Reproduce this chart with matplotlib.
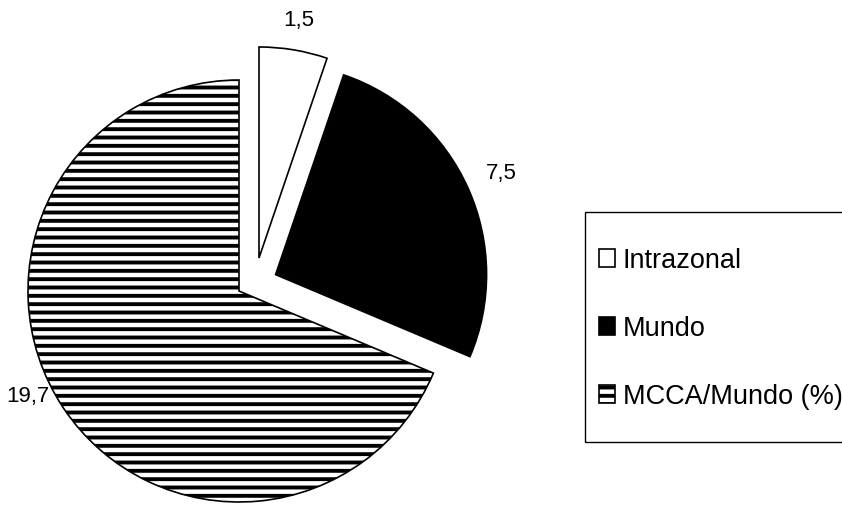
import matplotlib
matplotlib.use("Agg")
import matplotlib.pyplot as plt
import numpy as np
from matplotlib.patches import Rectangle

plt.rcParams["font.family"] = ["Liberation Sans", "DejaVu Sans"]
plt.rcParams["hatch.linewidth"] = 2.8
plt.rcParams["hatch.color"] = "black"

categories = ["Intrazonal", "Mundo", "MCCA/Mundo (%)"]
values = [1.5, 7.5, 19.7]
value_labels = ["1,5", "7,5", "19,7"]

explode = [0.19, 0.19, 0.0]
colors = ["white", "black", "white"]
hatches = [None, None, "--"]
label_dist = [1.14, 1.17, 1.12]
label_turn = [0, 0, -7]  # degrees, label placement tweak

W, H, DPI = 842, 505, 100
R_PX = 211.0          # pie radius in pixels
CX, CY = 239.0, 291.0  # pie centre (pixels from top-left)

fig = plt.figure(figsize=(W / DPI, H / DPI), dpi=DPI)
ax = fig.add_axes([0, 0, 1, 1])

wedges, _ = ax.pie(values, explode=explode, colors=colors, startangle=90,
                   counterclock=False, radius=1.0,
                   wedgeprops=dict(edgecolor="black", linewidth=1.2))
for w, h in zip(wedges, hatches):
    if h:
        w.set_hatch(h)
# the small slice is pulled out more to the right in the original
wedges[0].set_center((20 / R_PX, 33 / R_PX))

# pie() resets the limits, so set them afterwards
ax.set_aspect("auto")
ax.set_xlim(-CX / R_PX, (W - CX) / R_PX)
ax.set_ylim(-(H - CY) / R_PX, CY / R_PX)
ax.axis("off")

for w, lab, d, t in zip(wedges, value_labels, label_dist, label_turn):
    mid = np.deg2rad((w.theta1 + w.theta2) / 2 + t)
    cx, cy = w.center
    ax.text(cx + d * np.cos(mid), cy + d * np.sin(mid), lab,
            ha="center", va="center", fontsize=16)

# legend
leg = fig.legend(wedges, categories, loc="upper left",
                 bbox_to_anchor=(585 / W, 1 - 234 / H), borderaxespad=0,
                 frameon=False, fontsize=19.5, handlelength=0.6,
                 handleheight=0.6, handletextpad=0.3, labelspacing=1.55,
                 borderpad=0.5)
fig.add_artist(Rectangle((585 / W, 1 - 442 / H), (W - 585 + 20) / W,
                         (442 - 212) / H, transform=fig.transFigure,
                         fill=False, edgecolor="black", linewidth=1.0))

fig.savefig("out.png", dpi=DPI)
